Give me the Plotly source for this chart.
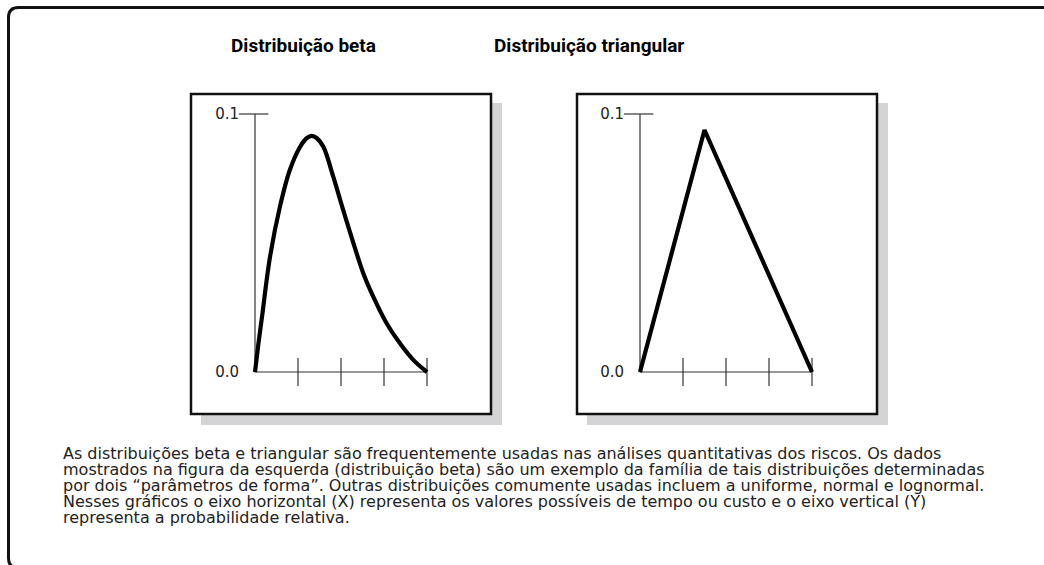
import plotly.graph_objects as go

W, H = 1044, 565

# beta curve (x in tick units 0..4, y = relative probability)
beta_x = [0.0, 0.08, 0.16, 0.35, 0.58, 0.81, 1.05, 1.2, 1.32, 1.44, 1.59, 1.82, 2.05, 2.29, 2.52, 2.75, 3.06, 3.37, 3.68, 4.0]
beta_y = [0.0, 0.011, 0.021, 0.0447, 0.0641, 0.0783, 0.0873, 0.0906, 0.0915, 0.0906, 0.0873, 0.0757, 0.0628, 0.0499, 0.0382, 0.0292, 0.0189, 0.0111, 0.0047, 0.0]

tri_x = [0.0, 1.5, 4.0]
tri_y = [0.0, 0.0938, 0.0]

tick_x = [1, 2, 3, 4]
y_ticks = [0.0, 0.1]
y_labels = ["0.0", "0.1"]

titles = ["Distribuição beta", "Distribuição triangular"]
caption = [
    "As distribuições beta e triangular são frequentemente usadas nas análises quantitativas dos riscos. Os dados",
    "mostrados na figura da esquerda (distribuição beta) são um exemplo da família de tais distribuições determinadas",
    "por dois “parâmetros de forma”. Outras distribuições comumente usadas incluem a uniforme, normal e lognormal.",
    "Nesses gráficos o eixo horizontal (X) representa os valores possíveis de tempo ou custo e o eixo vertical (Y)",
    "representa a probabilidade relativa.",
]

BODY = "DejaVu Sans, sans-serif"
HEAD = "Roboto, sans-serif"


def px(x):
    return x / W


def py(y):
    return 1 - y / H


fig = go.Figure()

# x0 = pixel of value 0 in each panel
panels = [
    dict(x0=255, box=(191, 491), curve=(beta_x, beta_y), xa="x", ya="y"),
    dict(x0=640, box=(577, 877), curve=(tri_x, tri_y), xa="x2", ya="y2"),
]
unit = 43.0
xr = [-0.3, 4.4]
yr = [-0.01, 0.106]
y0_px, y1_px = 372, 114
yunit = (y0_px - y1_px) / 0.1

shapes = []
for i, p in enumerate(panels):
    bx0, bx1 = p["box"]
    # grey drop shadow, then the white box
    shapes.append(dict(type="rect", xref="paper", yref="paper",
                       x0=px(bx0 + 10), x1=px(bx1 + 11), y0=py(425), y1=py(103),
                       fillcolor="#d4d4d6", line=dict(width=0), layer="below"))
    shapes.append(dict(type="rect", xref="paper", yref="paper",
                       x0=px(bx0), x1=px(bx1), y0=py(414), y1=py(94),
                       fillcolor="white", line=dict(color="#111", width=2.5), layer="below"))

    xs, ys = p["curve"]
    # L-shaped axes
    fig.add_trace(go.Scatter(x=[0, 0, 4], y=[0.1, 0, 0], mode="lines",
                             line=dict(color="#333", width=1.2),
                             xaxis=p["xa"], yaxis=p["ya"], hoverinfo="skip"))
    fig.add_trace(go.Scatter(x=tick_x, y=[0] * len(tick_x), mode="markers",
                             marker=dict(symbol="line-ns", size=20, line=dict(color="#333", width=1.2)),
                             xaxis=p["xa"], yaxis=p["ya"], cliponaxis=False, hoverinfo="skip"))
    fig.add_trace(go.Scatter(x=[-0.03], y=[0.1], mode="markers",
                             marker=dict(symbol="line-ew", size=21, line=dict(color="#333", width=1.2)),
                             xaxis=p["xa"], yaxis=p["ya"], cliponaxis=False, hoverinfo="skip"))
    fig.add_trace(go.Scatter(x=xs, y=ys, mode="lines",
                             line=dict(color="black", width=4.2, shape="spline" if i == 0 else "linear"),
                             xaxis=p["xa"], yaxis=p["ya"], hoverinfo="skip"))

    dl = p["x0"] + xr[0] * unit
    dr = p["x0"] + xr[1] * unit
    db = y0_px - yr[0] * yunit
    dt = y0_px - yr[1] * yunit
    suffix = "" if i == 0 else "2"
    fig.update_layout(**{
        "xaxis" + suffix: dict(domain=[px(dl), px(dr)], range=xr, visible=False, fixedrange=True),
        "yaxis" + suffix: dict(domain=[py(db), py(dt)], range=yr, showgrid=False, zeroline=False,
                               showline=False, ticks="", tickvals=y_ticks, ticktext=y_labels,
                               tickfont=dict(family=BODY, size=15, color="#222"),
                               ticklabelstandoff=2, anchor="x" + suffix, fixedrange=True),
    })

# outer bracket frame (runs off the right and bottom edges)
r = 10
lx, ty, byy = 8.5, 7.5, 568
path = (f"M {px(1060)},{py(ty)} L {px(lx + r)},{py(ty)} "
        f"Q {px(lx)},{py(ty)} {px(lx)},{py(ty + r)} "
        f"L {px(lx)},{py(byy - r)} Q {px(lx)},{py(byy)} {px(lx + r)},{py(byy)} "
        f"L {px(60)},{py(byy)}")
shapes.append(dict(type="path", xref="paper", yref="paper", path=path,
                   line=dict(color="#111", width=3)))

annotations = []
for t, cx in zip(titles, [303, 589]):
    annotations.append(dict(text=f"<b>{t}</b>", xref="paper", yref="paper", x=px(cx), y=py(45),
                            xanchor="center", yanchor="middle", showarrow=False,
                            font=dict(family=HEAD, size=19, color="black")))
for k, line in enumerate(caption):
    annotations.append(dict(text=line, xref="paper", yref="paper", x=px(61), y=py(453 + 16 * k),
                            xanchor="left", yanchor="middle", showarrow=False,
                            font=dict(family=BODY, size=16, color="#222")))

fig.update_layout(width=W, height=H, margin=dict(l=0, r=0, t=0, b=0),
                  paper_bgcolor="white", plot_bgcolor="rgba(0,0,0,0)",
                  showlegend=False, shapes=shapes, annotations=annotations)

# drop the browser's default 8px body margin so the figure sits at the page corner
fig.write_html("out.html", config={"displayModeBar": False},
               post_script="document.body.style.margin='0';document.body.style.overflow='hidden';")
